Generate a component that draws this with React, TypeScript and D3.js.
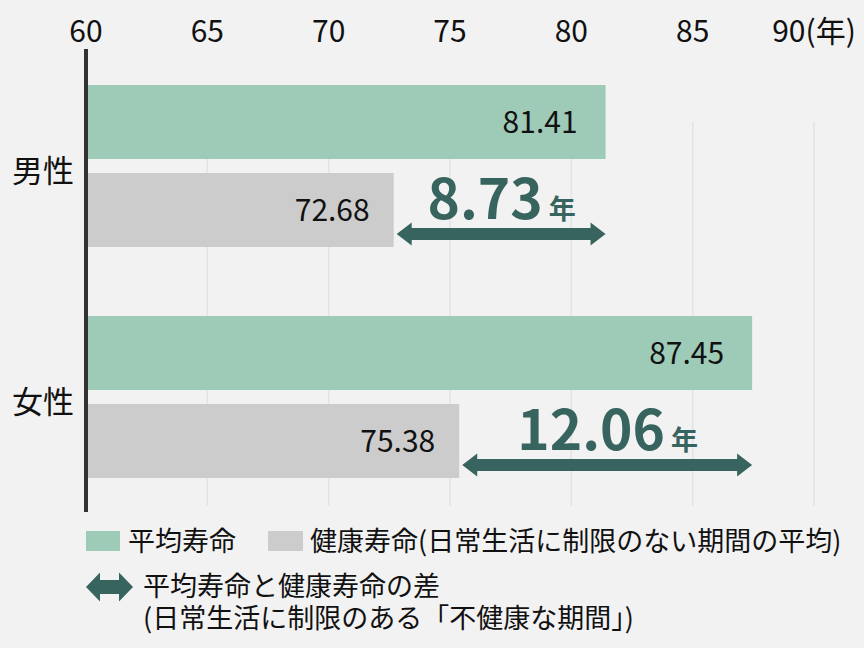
import * as d3 from 'd3';

// data
const groups = ['男性', '女性'];
const lifeExpectancy = [81.41, 87.45];
const healthyLife = [72.68, 75.38];
const gaps = ['8.73', '12.06'];
const ticks = [60, 65, 70, 75, 80, 85, 90];

const W = 864;
const H = 648;
const GREEN = '#9ecab8';
const GRAY = '#cccccc';
const DARK = '#37645e';
const FONT = '"Noto Sans CJK JP", "Noto Sans", sans-serif';

function Arrow({ x1, x2, y, hh = 11.5, hl = 15, t = 6 }: { x1: number; x2: number; y: number; hh?: number; hl?: number; t?: number }) {
  const d = `M${x1},${y} L${x1 + hl},${y - hh} L${x1 + hl},${y - t} L${x2 - hl},${y - t} L${x2 - hl},${y - hh} L${x2},${y} L${x2 - hl},${y + hh} L${x2 - hl},${y + t} L${x1 + hl},${y + t} L${x1 + hl},${y + hh} Z`;
  return <path d={d} fill={DARK} />;
}

export default function App() {
  const x = d3.scaleLinear().domain([60, 90]).range([86, 814]);
  const y = d3.scaleBand().domain(groups).range([85, 477]).paddingInner(0.303);
  const bh = 74;
  const gap = 14;

  return (
    <svg width={W} height={H} style={{ position: 'absolute', left: 0, top: 0, background: '#f2f2f2', fontFamily: FONT }}>
      <rect width={W} height={H} fill="#f2f2f2" />
      {/* grid */}
      {ticks.slice(1).map(t => (
        <line key={t} x1={x(t)} x2={x(t)} y1={122} y2={506} stroke="#e3e3e3" strokeWidth={1.5} />
      ))}
      {/* tick labels */}
      {ticks.map(t => (
        <text key={t} x={x(t)} y={42} textAnchor="middle" fontSize={30} fill="#111">
          {t === 90 ? '90(年)' : t}
        </text>
      ))}
      {groups.map((g, i) => {
        const g1 = y(g)!;
        const g2 = g1 + bh + gap;
        const xa = x(healthyLife[i]);
        const xb = x(lifeExpectancy[i]);
        return (
          <g key={g}>
            <rect x={x(60)} y={g1} width={xb - x(60)} height={bh} fill={GREEN} />
            <rect x={x(60)} y={g2} width={xa - x(60)} height={bh} fill={GRAY} />
            <text x={xb - 28} y={g1 + 48} textAnchor="end" fontSize={30} fill="#111">
              {lifeExpectancy[i].toFixed(2)}
            </text>
            <text x={xa - 24} y={g2 + 48} textAnchor="end" fontSize={30} fill="#111">
              {healthyLife[i].toFixed(2)}
            </text>
            <text x={12} y={g2 + 9} fontSize={31} fill="#111">{g}</text>
            <Arrow x1={xa + 3} x2={xb} y={g2 + 61} />
            <text x={(xa + xb) / 2 + 2} y={g2 + 46} textAnchor="middle" fill={DARK} fontWeight={700}>
              <tspan fontSize={55}>{gaps[i]}</tspan>
              <tspan fontSize={27} dx={6}>年</tspan>
            </text>
          </g>
        );
      })}
      {/* axis line */}
      <line x1={86} x2={86} y1={49} y2={512} stroke="#333" strokeWidth={4} />
      {/* legend */}
      <rect x={86} y={531} width={34} height={20} fill={GREEN} />
      <text x={128} y={551} fontSize={27} fill="#111">平均寿命</text>
      <rect x={268} y={531} width={35} height={20} fill={GRAY} />
      <text x={310} y={551} fontSize={27} fill="#111">健康寿命(日常生活に制限のない期間の平均)</text>
      <Arrow x1={86} x2={133} y={587} hh={14.5} hl={14} t={7} />
      <text x={143} y={596} fontSize={27} fill="#111">平均寿命と健康寿命の差</text>
      <text x={143} y={628} fontSize={27} fill="#111">(日常生活に制限のある「不健康な期間」)</text>
    </svg>
  );
}
